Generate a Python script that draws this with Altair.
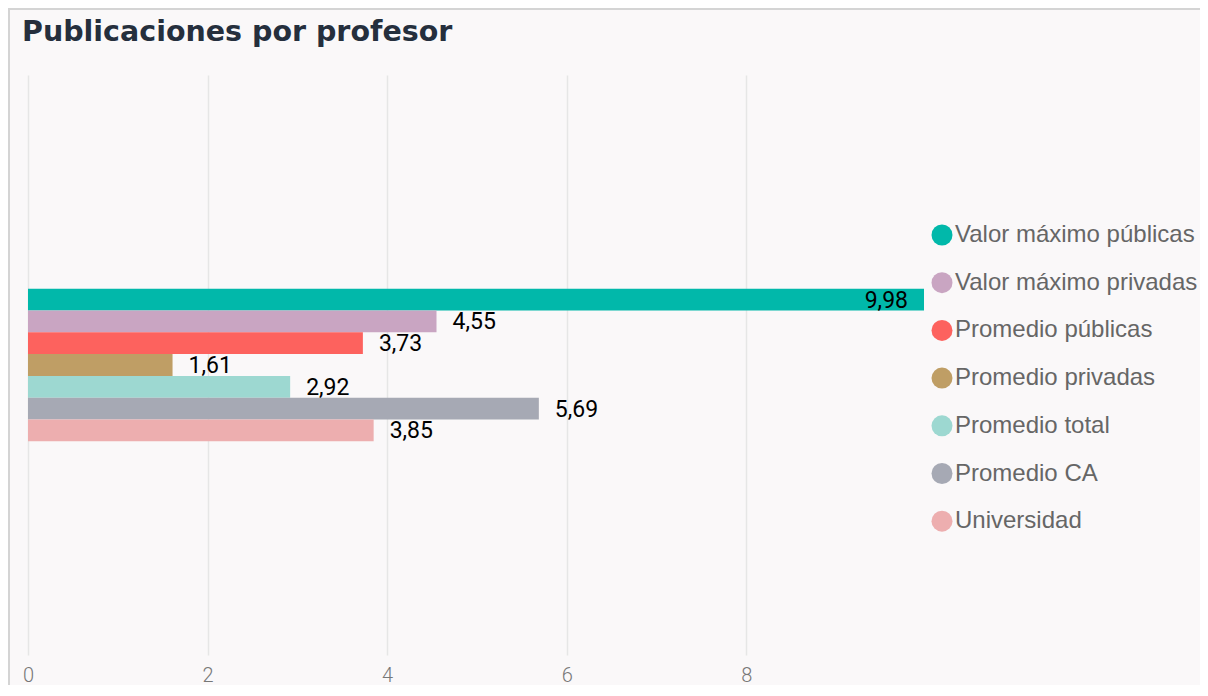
import altair as alt
import pandas as pd

series = ["Valor máximo públicas", "Valor máximo privadas", "Promedio públicas",
          "Promedio privadas", "Promedio total", "Promedio CA", "Universidad"]
values = [9.98, 4.55, 3.73, 1.61, 2.92, 5.69, 3.85]
colors = ["#01B8AA", "#C9A5C2", "#FD625E", "#BF9E65", "#9DD8D1", "#A6A9B4", "#EDAEAF"]
tick_values = [0, 2, 4, 6, 8]

df = pd.DataFrame({
    "group": ["Publicaciones"] * len(series),
    "series": series,
    "value": values,
    "label": [f"{v:.2f}".replace(".", ",") for v in values],
})

xscale = alt.Scale(domain=[0, 9.98], nice=False, zero=True)
yscale = alt.Scale(paddingInner=0.286, paddingOuter=1)

base = alt.Chart(df).encode(
    y=alt.Y("group:N", axis=None, scale=yscale),
    yOffset=alt.YOffset("series:N", sort=series, scale=alt.Scale(paddingInner=0, paddingOuter=0)),
)

bars = base.mark_bar().encode(
    x=alt.X("value:Q", scale=xscale,
            axis=alt.Axis(values=tick_values, format="d", title=None, grid=True,
                          gridColor="#E6E6E6", gridWidth=1.5, domain=False, ticks=False,
                          labelFlush=False, labelFont="Roboto", labelFontSize=20,
                          labelFontWeight=300, labelColor="#777777", labelPadding=10)),
    color=alt.Color("series:N", sort=series,
                    scale=alt.Scale(domain=series, range=colors),
                    legend=alt.Legend(title=None, orient="none", legendX=902, legendY=148,
                                      direction="vertical", symbolType="circle",
                                      symbolSize=441, symbolStrokeWidth=0, symbolOpacity=1,
                                      labelFont="Liberation Sans", labelFontSize=24,
                                      labelColor="#666666", labelLimit=400, labelOffset=1,
                                      rowPadding=23.7, padding=0)),
)

text_out = base.transform_filter(alt.datum.value < 9).mark_text(
    align="left", baseline="middle", dx=16, dy=1, font="Roboto", fontSize=23,
    fontWeight=400, color="#000000"
).encode(x=alt.X("value:Q", scale=xscale), text="label:N")

text_in = base.transform_filter(alt.datum.value >= 9).mark_text(
    align="right", baseline="middle", dx=-16, dy=1, font="Roboto", fontSize=23,
    fontWeight=400, color="#000000"
).encode(x=alt.X("value:Q", scale=xscale), text="label:N")

frame = alt.Chart(pd.DataFrame({"a": [0]})).mark_rect(
    filled=False, stroke="#D4D4D4", strokeWidth=2
).encode(x=alt.value(-19), x2=alt.value(1190), y=alt.value(-66), y2=alt.value(720))

chart = alt.layer(frame, bars, text_out, text_in).properties(
    width=896, height=580,
    autosize=alt.AutoSizeParams(type="none"),
    padding={"left": 20, "top": 67, "right": 276, "bottom": 30},
    background="#FAF8F9",
    title=alt.TitleParams("Publicaciones por profesor", anchor="start", font="DejaVu Sans",
                          fontSize=28.5, fontWeight="bold", color="#252F3D", dx=14,
                          offset=0, baseline="alphabetic", dy=61),
).configure_view(stroke=None)

chart.save("out.html", embed_options={"renderer": "svg", "actions": False})
